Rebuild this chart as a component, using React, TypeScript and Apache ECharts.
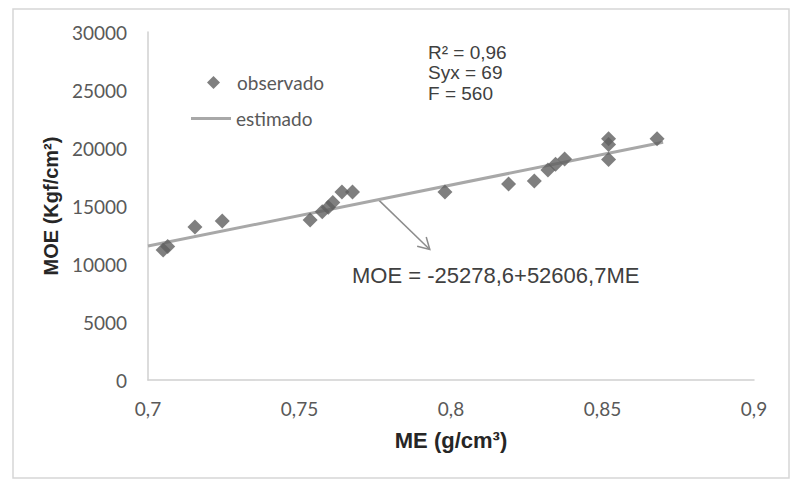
import React, { useEffect, useRef } from "react";
import * as echarts from "echarts";

const meValues = [0.705, 0.7065, 0.7155, 0.7245, 0.7535, 0.7575, 0.7595, 0.761, 0.764, 0.7675, 0.798, 0.819, 0.8275, 0.832, 0.8345, 0.8375, 0.852, 0.852, 0.852, 0.868];
const moeValues = [11200, 11500, 13200, 13700, 13800, 14500, 14900, 15300, 16200, 16200, 16200, 16900, 17150, 18100, 18600, 19050, 20800, 20300, 19000, 20800];
const estX = [0.7, 0.87];
const estY = [11550, 20490];
const arrowFrom = [0.776, 15550];
const arrowTo = [0.793, 11250];
const statsLines = ["R² = 0,96", "Syx = 69", "F = 560"];
const equationText = "MOE = -25278,6+52606,7ME";

export default function App() {
  const ref = useRef<HTMLDivElement>(null);
  useEffect(() => {
    if (!ref.current) return;
    const chart = echarts.init(ref.current, undefined, { renderer: "svg" });
    const observed = meValues.map((x, i) => [x, moeValues[i]]);
    const est = estX.map((x, i) => [x, estY[i]]);
    chart.setOption({
      animation: false,
      backgroundColor: "#ffffff",
      grid: { left: 148, top: 32, right: 40, bottom: 99, containLabel: false },
      legend: [
        {
          data: [{ name: "observado", icon: "diamond" }],
          left: 202,
          top: 68,
          itemWidth: 13,
          itemHeight: 13,
          selectedMode: false,
          textStyle: { fontFamily: "Lato", fontSize: 19, color: "#595959", padding: [0, 0, 0, 12] },
        },
        {
          data: [{ name: "estimado", icon: "rect" }],
          left: 186,
          top: 104,
          itemWidth: 40,
          itemHeight: 3,
          selectedMode: false,
          textStyle: { fontFamily: "Lato", fontSize: 19, color: "#595959" },
        },
      ],
      xAxis: {
        type: "value",
        min: 0.7,
        max: 0.9,
        interval: 0.05,
        name: "ME (g/cm³)",
        nameLocation: "middle",
        nameGap: 49,
        nameTextStyle: { fontFamily: "Liberation Sans", fontWeight: "bold", fontSize: 22, color: "#262626" },
        axisLine: { show: true, lineStyle: { color: "#d0d0d0", width: 1.5 } },
        axisTick: { show: false },
        splitLine: { show: false },
        axisLabel: {
          margin: 19,
          fontFamily: "Lato",
          fontSize: 19,
          color: "#595959",
          formatter: (v: number) => String(Math.round(v * 100) / 100).replace(".", ","),
        },
      },
      yAxis: {
        type: "value",
        min: 0,
        max: 30000,
        interval: 5000,
        name: "MOE (Kgf/cm²)",
        nameLocation: "middle",
        nameRotate: 90,
        nameGap: 83,
        nameTextStyle: { fontFamily: "Liberation Sans", fontWeight: "bold", fontSize: 20, color: "#262626" },
        axisLine: { show: true, lineStyle: { color: "#d0d0d0", width: 1.5 } },
        axisTick: { show: false },
        splitLine: { show: false },
        axisLabel: {
          margin: 21,
          fontFamily: "Lato",
          fontSize: 19,
          color: "#595959",
          formatter: (v: number) => String(v),
        },
      },
      series: [
        {
          name: "estimado",
          type: "line",
          data: est,
          symbol: "none",
          lineStyle: { color: "#a8a8a8", width: 3 },
          itemStyle: { color: "#a8a8a8" },
          z: 1,
        },
        {
          name: "observado",
          type: "scatter",
          data: observed,
          symbol: "diamond",
          symbolSize: 15,
          itemStyle: { color: "#5f5f5f" },
          z: 2,
        },
      ],
    });

    const p0 = chart.convertToPixel({ gridIndex: 0 }, arrowFrom) as number[];
    const p1 = chart.convertToPixel({ gridIndex: 0 }, arrowTo) as number[];
    const ang = Math.atan2(p1[1] - p0[1], p1[0] - p0[0]);
    const hl = 13;
    const h1 = [p1[0] - hl * Math.cos(ang - Math.PI / 6), p1[1] - hl * Math.sin(ang - Math.PI / 6)];
    const h2 = [p1[0] - hl * Math.cos(ang + Math.PI / 6), p1[1] - hl * Math.sin(ang + Math.PI / 6)];
    const textStyle = { fontFamily: "Liberation Sans", fill: "#404040" };
    chart.setOption({
      graphic: [
        {
          type: "rect",
          shape: { x: 13, y: 9, width: 776, height: 469 },
          style: { fill: "none", stroke: "#d6d6d6", lineWidth: 1.5 },
          silent: true,
        },
        {
          type: "line",
          shape: { x1: p0[0], y1: p0[1], x2: p1[0], y2: p1[1] },
          style: { stroke: "#8c8c8c", lineWidth: 1.5 },
        },
        {
          type: "polyline",
          shape: { points: [h1, p1, h2] },
          style: { stroke: "#8c8c8c", lineWidth: 1.5, fill: "none" },
        },
        ...statsLines.map((t, i) => ({
          type: "text",
          x: 428,
          y: 52 + i * 20.5,
          style: { ...textStyle, text: t, fontSize: 19, verticalAlign: "middle" },
        })),
        {
          type: "text",
          x: 352,
          y: 275,
          style: { ...textStyle, text: equationText, fontSize: 22, verticalAlign: "middle" },
        },
      ],
    });
    return () => chart.dispose();
  }, []);
  return <div ref={ref} style={{ width: 794, height: 479, position: "absolute", left: 0, top: 0 }} />;
}
